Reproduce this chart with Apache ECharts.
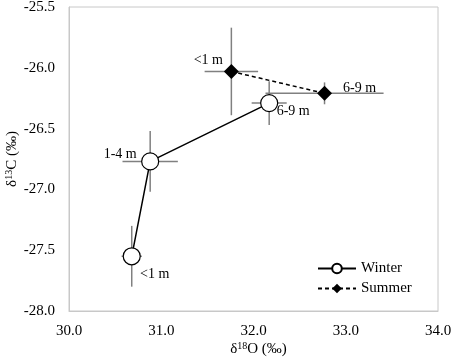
<!DOCTYPE html>
<html>
<head>
<meta charset="utf-8">
<script src="https://cdn.jsdelivr.net/npm/echarts@6/dist/echarts.min.js"></script>
<style>
  html, body { margin: 0; padding: 0; background: #fff; }
  #chart { width: 454px; height: 363px; }
</style>
</head>
<body>
<div id="chart"></div>
<script>
  // δ18O vs δ13C, winter / summer by depth
  var winterNames = ['<1 m', '1-4 m', '6-9 m'];
  var winterX = [30.68, 30.88, 32.17];
  var winterY = [-27.55, -26.77, -26.29];
  var winterXErr = [0.11, 0.30, 0.19];
  var winterYErr = [0.25, 0.25, 0.18];

  var summerNames = ['<1 m', '6-9 m'];
  var summerX = [31.76, 32.77];
  var summerY = [-26.03, -26.21];
  var summerXErr = [0.29, 0.64];
  var summerYErr = [0.36, 0.09];

  var xTicks = [30.0, 31.0, 32.0, 33.0, 34.0];
  var yTicks = [-28.0, -27.5, -27.0, -26.5, -26.0, -25.5];

  var font = '"Liberation Serif", "Times New Roman", serif';

  function errData(xs, ys, xe, ye) {
    return xs.map(function (x, i) { return [x, ys[i], xe[i], ye[i]]; });
  }

  function errBars(params, api) {
    var x = api.value(0), y = api.value(1), dx = api.value(2), dy = api.value(3);
    var l = api.coord([x - dx, y]), r = api.coord([x + dx, y]);
    var t = api.coord([x, y + dy]), b = api.coord([x, y - dy]);
    var st = { stroke: '#808080', lineWidth: 1.5 };
    return {
      type: 'group',
      children: [
        { type: 'line', shape: { x1: l[0], y1: l[1], x2: r[0], y2: r[1] }, style: st },
        { type: 'line', shape: { x1: t[0], y1: t[1], x2: b[0], y2: b[1] }, style: st }
      ]
    };
  }

  function points(xs, ys, names, offsets) {
    return xs.map(function (x, i) {
      return {
        value: [x, ys[i]],
        name: names[i],
        label: { offset: offsets[i] }
      };
    });
  }

  var myChart = echarts.init(document.getElementById('chart'));
  var options = {
    backgroundColor: '#fff',
    animation: false,
    textStyle: { fontFamily: font },
    grid: {
      left: 69, right: 16, top: 7, bottom: 52,
      outerBoundsMode: 'none', containLabel: false,
      show: true, borderColor: '#c8c8c8', borderWidth: 1
    },
    legend: {
      orient: 'vertical',
      left: 312, top: 256,
      itemWidth: 38, itemHeight: 12, itemGap: 5,
      textStyle: { fontFamily: font, fontSize: 15, color: '#000' },
      data: ['Winter', 'Summer']
    },
    xAxis: {
      type: 'value',
      min: xTicks[0], max: xTicks[xTicks.length - 1], interval: 1,
      name: '{d|δ}{sup|18}{d|O (‰)}',
      nameLocation: 'middle', nameGap: 30, nameMoveOverlap: false,
      nameTextStyle: {
        padding: [0, 0, 0, 10],
        rich: {
          d: { fontFamily: font, fontSize: 15, color: '#000' },
          sup: { fontFamily: font, fontSize: 10, color: '#000', padding: [0, 0, 7, 0] }
        }
      },
      axisLine: { show: true, lineStyle: { color: '#c8c8c8' } },
      axisTick: { show: false },
      splitLine: { show: false },
      axisLabel: {
        margin: 13, fontFamily: font, fontSize: 15, color: '#000',
        formatter: function (v) { return v.toFixed(1); }
      }
    },
    yAxis: {
      type: 'value',
      min: yTicks[0], max: yTicks[yTicks.length - 1], interval: 0.5,
      name: '{d|δ}{sup|13}{d|C (‰)}',
      nameLocation: 'middle', nameGap: 48, nameRotate: 90, nameMoveOverlap: false,
      nameTextStyle: {
        rich: {
          d: { fontFamily: font, fontSize: 15, color: '#000' },
          sup: { fontFamily: font, fontSize: 10, color: '#000', padding: [0, 0, 7, 0] }
        }
      },
      axisLine: { show: true, onZero: false, lineStyle: { color: '#c8c8c8' } },
      axisTick: { show: false },
      splitLine: { show: false },
      axisLabel: {
        margin: 14, fontFamily: font, fontSize: 15, color: '#000',
        formatter: function (v) { return v.toFixed(1); }
      }
    },
    series: [
      {
        type: 'custom', name: 'winterErr', z: 1, silent: true,
        renderItem: errBars,
        encode: { x: 0, y: 1 },
        data: errData(winterX, winterY, winterXErr, winterYErr)
      },
      {
        type: 'custom', name: 'summerErr', z: 1, silent: true,
        renderItem: errBars,
        encode: { x: 0, y: 1 },
        data: errData(summerX, summerY, summerXErr, summerYErr)
      },
      {
        name: 'Winter',
        type: 'line', z: 3,
        symbol: 'circle', symbolSize: 17,
        lineStyle: { color: '#000', width: 1.5 },
        itemStyle: { color: '#fff', borderColor: '#000', borderWidth: 1.2 },
        label: {
          show: true, position: 'inside',
          fontFamily: font, fontSize: 14, color: '#000',
          formatter: function (p) { return p.name; }
        },
        data: points(winterX, winterY, winterNames, [[23, 18], [-30, -7], [24, 8]])
      },
      {
        name: 'Summer',
        type: 'line', z: 3,
        symbol: 'diamond', symbolSize: 15,
        lineStyle: { color: '#000', width: 1.5, type: [4, 3] },
        itemStyle: { color: '#000', borderColor: '#000', borderWidth: 0 },
        label: {
          show: true, position: 'inside',
          fontFamily: font, fontSize: 14, color: '#000',
          formatter: function (p) { return p.name; }
        },
        data: points(summerX, summerY, summerNames, [[-23, -11], [35, -5]])
      }
    ]
  };
  myChart.setOption(options);
</script>
</body>
</html>
